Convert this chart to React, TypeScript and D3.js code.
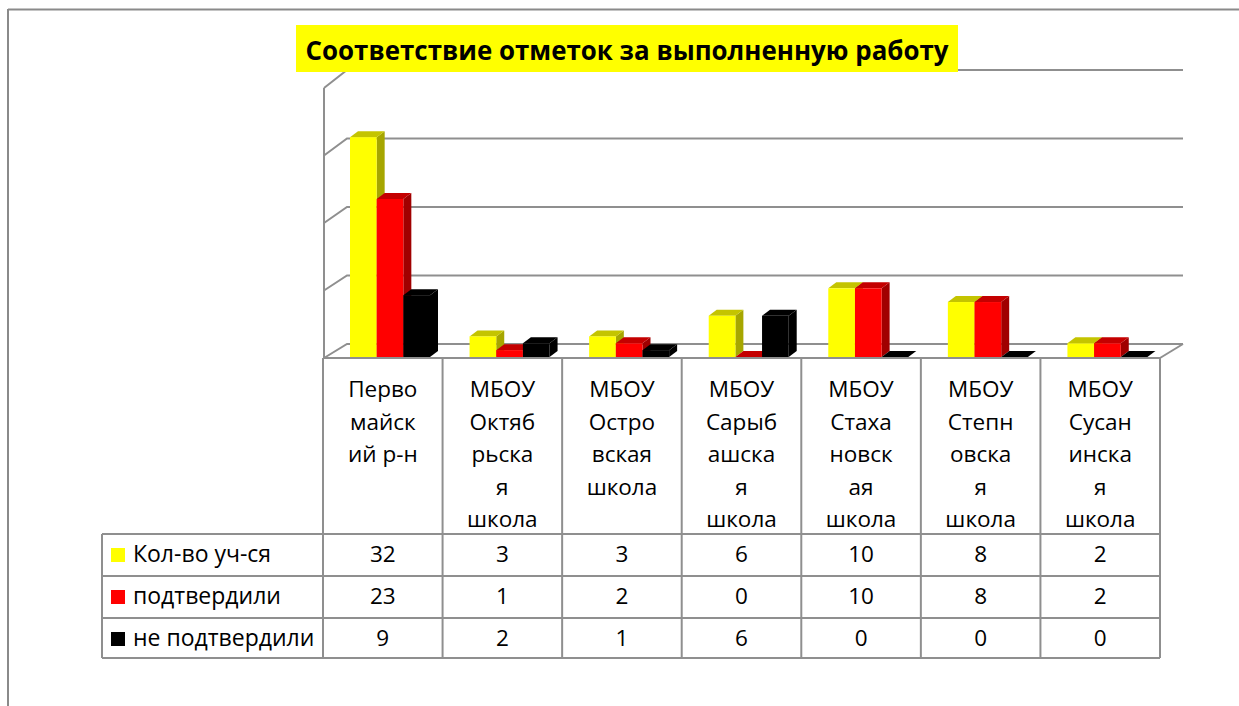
import React from 'react';
import * as d3 from 'd3';

const title = "Соответствие отметок за выполненную работу";
const categoryLines: string[][] = [
  ["Перво", "майск", "ий р-н"],
  ["МБОУ", "Октяб", "рьска", "я", "школа"],
  ["МБОУ", "Остро", "вская", "школа"],
  ["МБОУ", "Сарыб", "ашска", "я", "школа"],
  ["МБОУ", "Стаха", "новск", "ая", "школа"],
  ["МБОУ", "Степн", "овска", "я", "школа"],
  ["МБОУ", "Сусан", "инска", "я", "школа"],
];
const seriesNames = ["Кол-во уч-ся", "подтвердили", "не подтвердили"];
const students = [32, 3, 3, 6, 10, 8, 2];
const confirmed = [23, 1, 2, 0, 10, 8, 2];
const notConfirmed = [9, 2, 1, 6, 0, 0, 0];
const yTicks = [0, 10, 20, 30, 40];

const seriesValues = [students, confirmed, notConfirmed];
const seriesColors = [
  { front: "#FFFF00", top: "#C4C400", side: "#A6A600", key: "#FFFF00" },
  { front: "#FF0000", top: "#C40000", side: "#A00000", key: "#FF0000" },
  { front: "#000000", top: "#000000", side: "#000000", key: "#000000" },
];

const FONT = "'Open Sans', 'Noto Sans', sans-serif";
const GRID = "#8f8f8f";

export default function App() {
  const W = 1239, H = 706;
  const plotL = 323, plotR = 1160;
  const floorY = 358;
  const DX = 23, DY = 14;
  const barBase = 357;
  const bdx = 8, bdy = 6;

  const yFront = d3.scaleLinear().domain([0, 40]).range([floorY, 88]);
  const yBack = d3.scaleLinear().domain([0, 40]).range([floorY - DY, 70]);
  const yBar = d3.scaleLinear().domain([0, 40]).range([barBase, barBase - 40 * 6.87]);
  const x = d3.scaleBand<number>().domain(d3.range(categoryLines.length)).range([plotL, plotR]);
  const xs = d3.scaleBand<number>().domain(d3.range(3)).range([27, 107]);

  const headerTop = floorY;
  const rowTops = [534, 576, 618];
  const tableBottom = 658;
  const legendL = 102;

  const bars: JSX.Element[] = [];
  categoryLines.forEach((_, ci) => {
    seriesValues.forEach((vals, si) => {
      const v = vals[ci];
      const x0 = (x(ci) as number) + (xs(si) as number);
      const x1 = x0 + xs.bandwidth();
      const yt = yBar(v);
      const c = seriesColors[si];
      const key = `${ci}-${si}`;
      bars.push(
        <g key={key}>
          {v > 0 && (
            <polygon
              points={`${x1},${yt} ${x1 + bdx},${yt - bdy} ${x1 + bdx},${barBase - bdy} ${x1},${barBase}`}
              fill={c.side}
            />
          )}
          <polygon
            points={`${x0},${yt} ${x0 + bdx},${yt - bdy} ${x1 + bdx},${yt - bdy} ${x1},${yt}`}
            fill={c.top}
          />
          {v > 0 && <rect x={x0} y={yt} width={x1 - x0} height={barBase - yt} fill={c.front} />}
        </g>
      );
    });
  });

  return (
    <svg width={W} height={H} style={{ position: 'absolute', left: 0, top: 0, display: 'block' }}>
      <rect x={0} y={0} width={W} height={H} fill="#fff" />
      {/* outer frame */}
      <line x1={8} y1={9.5} x2={W} y2={9.5} stroke="#8a8a8a" strokeWidth={2} />
      <line x1={8} y1={9} x2={8} y2={H} stroke="#8a8a8a" strokeWidth={2} />

      {/* walls & gridlines */}
      <line x1={plotL + 1} y1={yFront(40)} x2={plotL + 1} y2={floorY} stroke={GRID} strokeWidth={2} />
      {yTicks.map(t => (
        <g key={t}>
          <polyline
            points={`${plotL + 1},${yFront(t)} ${plotL + 1 + DX},${yBack(t)} ${plotR + DX},${yBack(t)}`}
            fill="none" stroke={GRID} strokeWidth={2}
          />
        </g>
      ))}
      <line x1={plotR} y1={floorY} x2={plotR + DX} y2={floorY - DY} stroke={GRID} strokeWidth={2} />

      {bars}

      {/* title */}
      <rect x={296} y={25} width={662} height={47} fill="#FFFF00" />
      <text x={627} y={60} textAnchor="middle" fontFamily={FONT} fontWeight="bold" fontSize={27.5}
        textLength={643} lengthAdjust="spacingAndGlyphs" fill="#000">{title}</text>

      {/* data table */}
      <g stroke={GRID} strokeWidth={2} fill="none">
        <line x1={plotL} y1={headerTop} x2={plotR} y2={headerTop} />
        {d3.range(categoryLines.length + 1).map(i => {
          const xx = i < categoryLines.length ? (x(i) as number) : plotR;
          return <line key={i} x1={xx} y1={headerTop} x2={xx} y2={tableBottom} />;
        })}
        {[...rowTops, tableBottom].map((ry, i) => (
          <line key={'h' + i} x1={legendL} y1={ry} x2={plotR} y2={ry} />
        ))}
        <line x1={legendL} y1={rowTops[0]} x2={legendL} y2={tableBottom} />
      </g>

      {categoryLines.map((lines, ci) => (
        <text key={'c' + ci} fontFamily={FONT} fontSize={22.5} fill="#000" textAnchor="middle">
          {lines.map((ln, li) => (
            <tspan key={li} x={(x(ci) as number) + x.bandwidth() / 2} y={397 + li * 32.5}>{ln}</tspan>
          ))}
        </text>
      ))}

      {seriesNames.map((name, si) => (
        <g key={'s' + si}>
          <rect x={111} y={rowTops[si] + 14} width={14} height={14} fill={seriesColors[si].key} />
          <text x={133} y={rowTops[si] + 28} fontFamily={FONT} fontSize={23} fill="#000">{name}</text>
          {seriesValues[si].map((v, ci) => (
            <text key={ci} x={(x(ci) as number) + x.bandwidth() / 2} y={rowTops[si] + 28}
              textAnchor="middle" fontFamily={FONT} fontSize={22.5} fill="#000">{v}</text>
          ))}
        </g>
      ))}
    </svg>
  );
}
